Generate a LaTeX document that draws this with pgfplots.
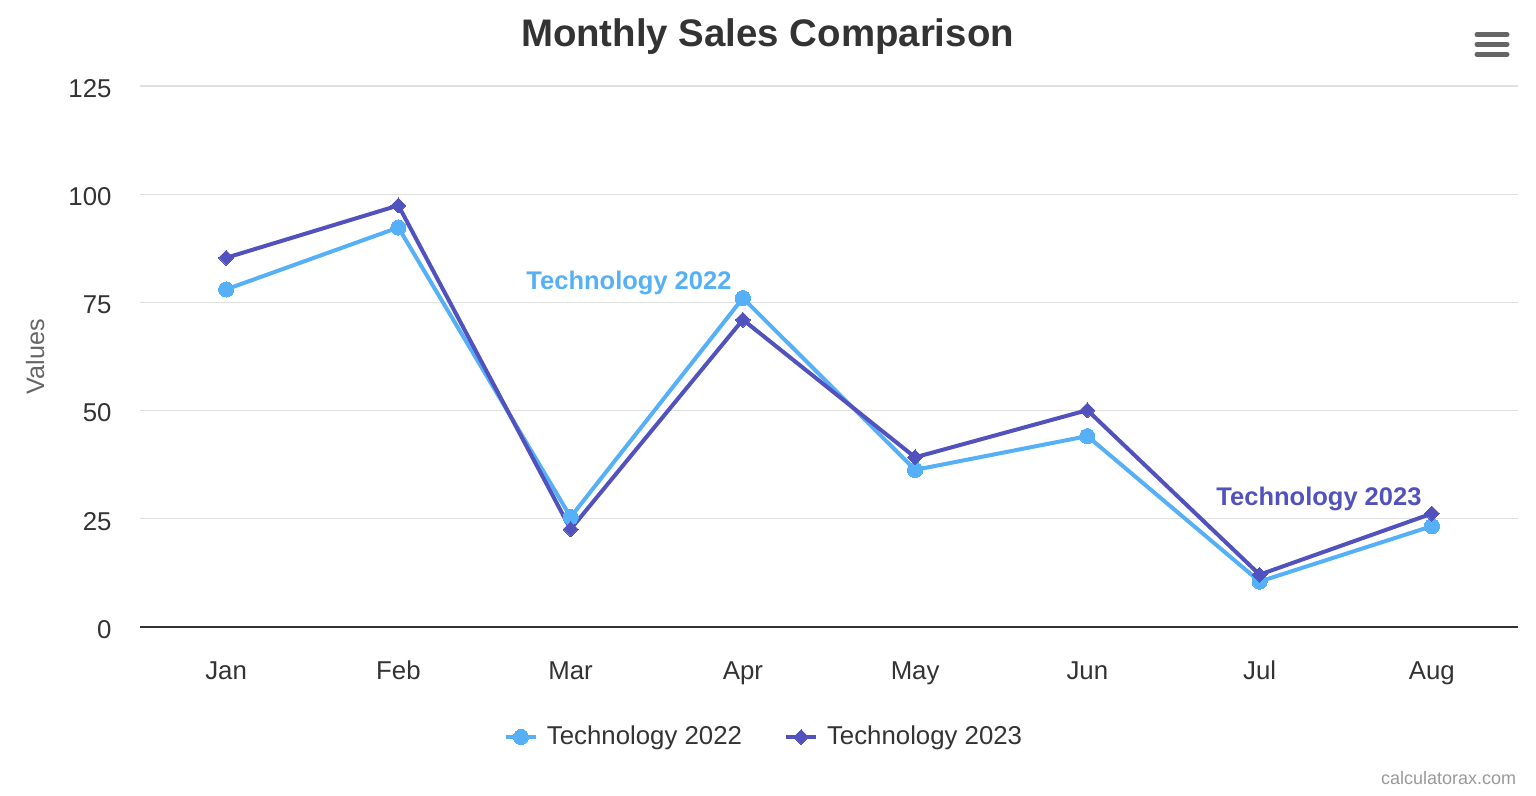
\documentclass[border=0pt]{standalone}
\usepackage{pgfplots}
\pgfplotsset{compat=1.18}
\usepackage{fontspec}
\setmainfont{Liberation Sans}
\definecolor{techA}{RGB}{86,176,247}
\definecolor{techB}{RGB}{82,82,190}
\definecolor{txt}{HTML}{333333}
\definecolor{gridc}{HTML}{E0E0E0}
\begin{document}
\begin{tikzpicture}
\path[use as bounding box] (0,0) rectangle (768pt,398pt);
\node[anchor=base, font=\fontsize{19.2}{23}\selectfont\bfseries, text=txt, inner sep=0pt] at (383.75pt,374.6pt) {Monthly Sales Comparison};
\foreach \yy in {380.65,375.85,370.85}{
  \draw[line width=2.5pt, line cap=round, color=black!60] (738.5pt,\yy pt) -- (753.5pt,\yy pt);
}
\node[anchor=base east, font=\fontsize{9}{11}\selectfont, text=black!40, inner sep=0pt] at (758.3pt,5.5pt) {calculatorax.com};
\begin{axis}[
  at={(70pt,84.5pt)}, anchor=south west,
  width=689pt, height=270.5pt, scale only axis,
  xmin=-0.5, xmax=7.5, ymin=0, ymax=125,
  xtick={0,1,2,3,4,5,6,7},
  xticklabels={Jan,Feb,Mar,Apr,May,Jun,Jul,Aug},
  ytick={0,25,50,75,100,125},
  /pgf/number format/assume math mode=true,
  ymajorgrids, grid style={gridc, line width=0.6pt},
  major tick length=0pt,
  axis x line*=bottom, axis y line*=left,
  x axis line style={-, draw=txt, line width=0.6pt},
  y axis line style={draw=none},
  tick label style={font=\fontsize{12.9}{15}\selectfont, text=txt},
  yticklabel style={xshift=-10.7pt, yshift=-1.2pt},
  xticklabel style={anchor=base, yshift=-26.5pt},
  ylabel={Values},
  every axis y label/.style={at={(axis description cs:-0.0762,0.5)}, rotate=90, anchor=center, font=\fontsize{12.6}{15}\selectfont, text=black!60},
  clip=false,
  legend columns=2,
  legend style={at={(0.4536,-0.2033)}, anchor=center, draw=none, fill=none,
    font=\fontsize{12.9}{15}\selectfont, text=txt,
    /tikz/every odd column/.append style={column sep=2.5pt},
    /tikz/every even column/.append style={column sep=19pt}},
  legend image code/.code={\draw[mark repeat=2,mark phase=2,#1] plot coordinates {(0pt,0pt) (7.5pt,0pt) (15pt,0pt)};},
]
\addplot[techA, line width=2pt, mark=*, mark size=3.8pt, mark options={solid, line width=0pt}]
  coordinates {(0,78) (1,92.3) (2,25.4) (3,76) (4,36.3) (5,44.1) (6,10.5) (7,23.3)};
\addlegendentry{Technology 2022}
\addplot[techB, line width=2pt, mark=square*, mark size=2.65pt, mark options={solid, rotate=45, line width=0pt}]
  coordinates {(0,85.3) (1,97.4) (2,22.6) (3,71) (4,39.2) (5,50.1) (6,12.1) (7,26.2)};
\addlegendentry{Technology 2023}
\node[anchor=base east, font=\fontsize{12.75}{15}\selectfont\bfseries, text=techA, inner sep=0pt, xshift=-5.5pt, yshift=4.5pt] at (axis cs:3,76) {Technology 2022};
\node[anchor=base east, font=\fontsize{12.75}{15}\selectfont\bfseries, text=techB, inner sep=0pt, xshift=-5pt, yshift=4pt] at (axis cs:7,26.2) {Technology 2023};
\end{axis}
\end{tikzpicture}
\end{document}
